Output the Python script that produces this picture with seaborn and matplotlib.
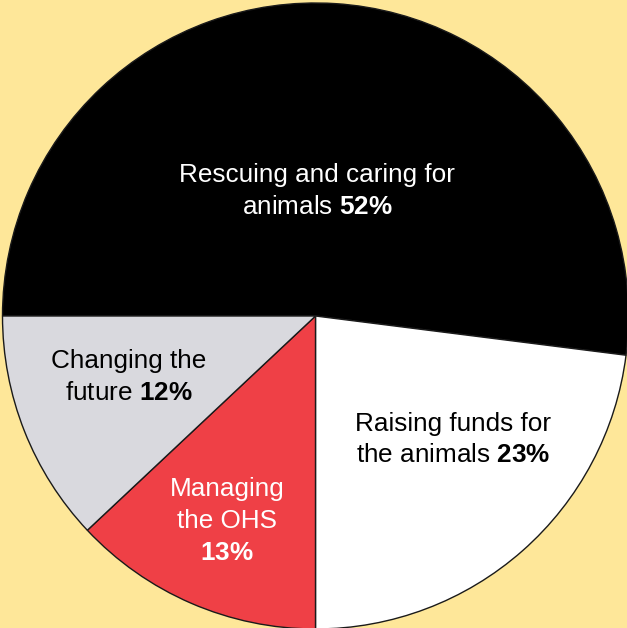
import matplotlib
matplotlib.use("Agg")
import matplotlib.pyplot as plt
import seaborn as sns

labels = ["Rescuing and caring for\nanimals", "Raising funds for\nthe animals", "Managing\nthe OHS\n", "Changing the\nfuture"]
shares = [52, 23, 13, 12]
colors = ["#000000", "#FFFFFF", "#EF4046", "#D9D9DE"]
text_colors = ["white", "black", "white", "black"]
label_pos = [(0.005, 0.40), (0.44, -0.395), (-0.283, -0.655), (-0.596, -0.195)]

sns.set_style("white")
plt.rcParams['font.family'] = ['Liberation Sans', 'DejaVu Sans']
plt.rcParams['mathtext.fontset'] = 'custom'
plt.rcParams['mathtext.rm'] = 'Liberation Sans'
plt.rcParams['mathtext.bf'] = 'Liberation Sans:bold'

fig = plt.figure(figsize=(6.27, 6.28), dpi=100, facecolor="#FEE799")
ax = fig.add_axes([0, 0, 1, 1])
ax.set_facecolor("#FEE799")

ax.pie(shares, colors=colors, startangle=180, counterclock=False, radius=1,
       wedgeprops=dict(edgecolor="#1a1a1a", linewidth=1))

for lab, val, col, (x, y) in zip(labels, shares, text_colors, label_pos):
    sep = "" if lab.endswith("\n") else " "
    txt = lab + sep + r"$\bf{" + str(val) + r"\%}$"
    ax.text(x, y, txt, ha="center", va="center", color=col, fontsize=18.8,
            linespacing=1.4)

ax.set_aspect("auto")
ax.set_xlim(-315.5 / 313, (627 - 315.5) / 313)
ax.set_ylim(-312 / 313, 316 / 313)
ax.axis("off")

fig.savefig("out.png", dpi=100, facecolor=fig.get_facecolor())
